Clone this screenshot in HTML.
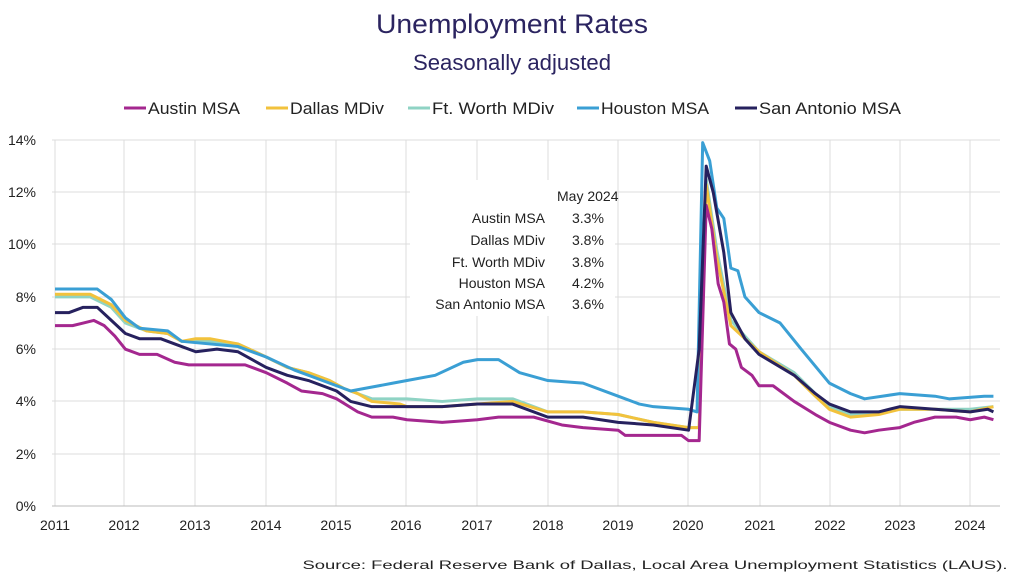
<!DOCTYPE html>
<html><head><meta charset="utf-8"><style>
body{margin:0;background:#fff;width:1024px;height:576px;overflow:hidden;font-family:"Liberation Sans",sans-serif}
</style></head><body>
<svg width="1024" height="576" viewBox="0 0 1024 576" font-family="Liberation Sans, sans-serif">
<text x="512" y="33" text-anchor="middle" font-size="27" fill="#2b2460" textLength="272" lengthAdjust="spacingAndGlyphs">Unemployment Rates</text>
<text x="512" y="70" text-anchor="middle" font-size="22" fill="#2b2460" textLength="198" lengthAdjust="spacingAndGlyphs">Seasonally adjusted</text>
<g font-size="17" fill="#222">
<line x1="124" y1="108" x2="146" y2="108" stroke="#a4278f" stroke-width="3"/><text x="148" y="114" textLength="92" lengthAdjust="spacingAndGlyphs">Austin MSA</text>
<line x1="266" y1="108" x2="288" y2="108" stroke="#f2c23c" stroke-width="3"/><text x="290" y="114" textLength="94" lengthAdjust="spacingAndGlyphs">Dallas MDiv</text>
<line x1="408" y1="108" x2="430" y2="108" stroke="#8fd3c4" stroke-width="3"/><text x="432" y="114" textLength="122" lengthAdjust="spacingAndGlyphs">Ft. Worth MDiv</text>
<line x1="577" y1="108" x2="599" y2="108" stroke="#3a9fd4" stroke-width="3"/><text x="601" y="114" textLength="108" lengthAdjust="spacingAndGlyphs">Houston MSA</text>
<line x1="735" y1="108" x2="757" y2="108" stroke="#26215e" stroke-width="3"/><text x="759" y="114" textLength="142" lengthAdjust="spacingAndGlyphs">San Antonio MSA</text>
</g>
<g stroke="#dcdcdc" stroke-width="1">
<line x1="52" y1="140" x2="1000" y2="140"/><line x1="52" y1="192" x2="1000" y2="192"/><line x1="52" y1="244" x2="1000" y2="244"/><line x1="52" y1="297" x2="1000" y2="297"/><line x1="52" y1="349" x2="1000" y2="349"/><line x1="52" y1="401" x2="1000" y2="401"/><line x1="52" y1="454" x2="1000" y2="454"/>
<line x1="55" y1="140" x2="55" y2="506"/><line x1="124" y1="140" x2="124" y2="506"/><line x1="195" y1="140" x2="195" y2="506"/><line x1="266" y1="140" x2="266" y2="506"/><line x1="336" y1="140" x2="336" y2="506"/><line x1="406" y1="140" x2="406" y2="506"/><line x1="477" y1="140" x2="477" y2="506"/><line x1="548" y1="140" x2="548" y2="506"/><line x1="618" y1="140" x2="618" y2="506"/><line x1="688" y1="140" x2="688" y2="506"/><line x1="760" y1="140" x2="760" y2="506"/><line x1="830" y1="140" x2="830" y2="506"/><line x1="900" y1="140" x2="900" y2="506"/><line x1="970" y1="140" x2="970" y2="506"/>
</g>
<line x1="52" y1="506" x2="1000" y2="506" stroke="#bbb"/>
<g font-size="14" fill="#222" text-anchor="end">
<text x="36" y="145">14%</text><text x="36" y="197">12%</text><text x="36" y="249">10%</text><text x="36" y="302">8%</text><text x="36" y="354">6%</text><text x="36" y="406">4%</text><text x="36" y="459">2%</text><text x="36" y="511">0%</text>
</g>
<g font-size="14" fill="#222" text-anchor="middle">
<text x="55" y="530">2011</text><text x="124" y="530">2012</text><text x="195" y="530">2013</text><text x="266" y="530">2014</text><text x="336" y="530">2015</text><text x="406" y="530">2016</text><text x="477" y="530">2017</text><text x="548" y="530">2018</text><text x="618" y="530">2019</text><text x="688" y="530">2020</text><text x="760" y="530">2021</text><text x="830" y="530">2022</text><text x="900" y="530">2023</text><text x="970" y="530">2024</text>
</g>
<rect x="410" y="180" width="205" height="136" fill="#fff"/>
<g font-size="14" fill="#222">
<text x="557" y="201">May 2024</text>
<g text-anchor="end"><text x="545" y="223">Austin MSA</text><text x="545" y="245">Dallas MDiv</text><text x="545" y="267">Ft. Worth MDiv</text><text x="545" y="288">Houston MSA</text><text x="545" y="309">San Antonio MSA</text></g>
<text x="572" y="223">3.3%</text><text x="572" y="245">3.8%</text><text x="572" y="267">3.8%</text><text x="572" y="288">4.2%</text><text x="572" y="309">3.6%</text>
</g>
<g transform="translate(55,506) scale(70.4,-26.14)" fill="none" stroke-width="3" stroke-linejoin="round">
<polyline vector-effect="non-scaling-stroke" stroke="#8fd3c4" points="0,8 .5,8 .8,7.6 1,7 1.3,6.7 1.6,6.6 1.8,6.3 2,6.3 2.2,6.3 2.6,6.2 3,5.7 3.3,5.3 3.6,5.1 3.9,4.8 4.1,4.5 4.3,4.3 4.5,4.1 5,4.1 5.5,4 6,4.1 6.5,4.1 7,3.6 7.5,3.6 8,3.5 8.5,3.2 9,3 9.15,3 9.25,12.5 9.4,9.8 9.6,7.1 9.8,6.5 10,5.9 10.5,5.1 10.8,4.3 11,3.8 11.3,3.5 11.7,3.6 12,3.7 12.5,3.7 13,3.7 13.33,3.8"/>
<polyline vector-effect="non-scaling-stroke" stroke="#f2c23c" points="0,8.1 .5,8.1 .8,7.7 1,7.1 1.3,6.7 1.6,6.6 1.8,6.3 2,6.4 2.2,6.4 2.6,6.2 3,5.7 3.3,5.3 3.6,5.1 3.9,4.8 4.1,4.5 4.3,4.3 4.5,4 4.9,3.9 5,3.8 5.5,3.8 6,3.9 6.5,4 7,3.6 7.5,3.6 8,3.5 8.5,3.2 9,3 9.15,3 9.25,12.3 9.4,9.5 9.6,6.9 9.8,6.4 10,5.9 10.5,5 10.8,4.2 11,3.7 11.3,3.4 11.7,3.5 12,3.7 12.5,3.7 13,3.6 13.33,3.8"/>
<polyline vector-effect="non-scaling-stroke" stroke="#3a9fd4" points="0,8.3 .6,8.3 .8,7.9 1,7.2 1.2,6.8 1.6,6.7 1.8,6.3 2.2,6.2 2.6,6.1 3,5.7 3.4,5.2 3.8,4.8 4,4.6 4.2,4.4 4.4,4.5 4.8,4.7 5,4.8 5.4,5 5.8,5.5 6,5.6 6.3,5.6 6.6,5.1 7,4.8 7.5,4.7 8,4.2 8.3,3.9 8.5,3.8 9,3.7 9.12,3.6 9.2,13.9 9.3,13.2 9.4,11.4 9.5,11 9.6,9.1 9.7,9 9.8,8 10,7.4 10.3,7 10.6,6 11,4.7 11.3,4.3 11.5,4.1 12,4.3 12.5,4.2 12.7,4.1 13.2,4.2 13.33,4.2"/>
<polyline vector-effect="non-scaling-stroke" stroke="#a4278f" points="0,6.9 .25,6.9 .4,7 .55,7.1 .7,6.9 .85,6.5 1,6 1.2,5.8 1.45,5.8 1.7,5.5 1.9,5.4 2.7,5.4 3,5.1 3.3,4.7 3.5,4.4 3.8,4.3 4,4.1 4.3,3.6 4.5,3.4 4.8,3.4 5,3.3 5.5,3.2 6,3.3 6.3,3.4 6.8,3.4 7.2,3.1 7.5,3 8,2.9 8.1,2.7 8.9,2.7 9,2.5 9.15,2.5 9.25,11.5 9.33,10.6 9.42,8.5 9.5,7.8 9.58,6.2 9.67,6 9.75,5.3 9.9,5 10,4.6 10.2,4.6 10.5,4 10.8,3.5 11,3.2 11.3,2.9 11.5,2.8 11.7,2.9 12,3 12.2,3.2 12.5,3.4 12.8,3.4 13,3.3 13.2,3.4 13.33,3.3"/>
<polyline vector-effect="non-scaling-stroke" stroke="#26215e" points="0,7.4 .2,7.4 .4,7.6 .6,7.6 .8,7.1 1,6.6 1.2,6.4 1.5,6.4 1.8,6.1 2,5.9 2.3,6 2.6,5.9 3,5.3 3.3,5 3.6,4.8 4,4.4 4.2,4 4.5,3.8 5,3.8 5.5,3.8 6,3.9 6.5,3.9 7,3.4 7.5,3.4 8,3.2 8.5,3.1 9,2.9 9.15,6 9.25,13 9.35,12 9.5,9.7 9.6,7.4 9.8,6.4 10,5.8 10.5,5 10.8,4.3 11,3.9 11.3,3.6 11.7,3.6 12,3.8 12.5,3.7 13,3.6 13.25,3.7 13.33,3.6"/>
</g>
<text x="655" y="569" text-anchor="middle" font-size="12" fill="#222" textLength="705" lengthAdjust="spacingAndGlyphs">Source: Federal Reserve Bank of Dallas, Local Area Unemployment Statistics (LAUS).</text>
</svg>
</body></html>
